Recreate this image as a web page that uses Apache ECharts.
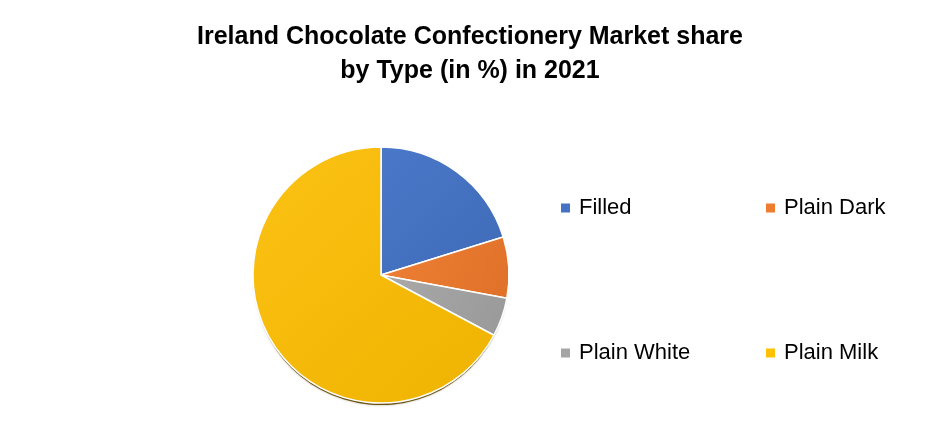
<!DOCTYPE html>
<html>
<head>
<meta charset="utf-8">
<script src="https://cdn.jsdelivr.net/npm/echarts@6/dist/echarts.min.js"></script>
<style>
html,body{margin:0;padding:0;background:#fff;}
#chart{width:940px;height:447px;}
</style>
</head>
<body>
<div id="chart"></div>
<script>
var categories = ['Filled', 'Plain Dark', 'Plain White', 'Plain Milk'];
var shares = [20.2, 7.7, 4.9, 67.2];
var titleText = 'Ireland Chocolate Confectionery Market share\nby Type (in %) in 2021';

var colorPairs = [
  ['#4a78c8', '#3f6bb8'],
  ['#ee8036', '#df7128'],
  ['#a9a9a9', '#999999'],
  ['#fcc214', '#efb300']
];

function grad(p) {
  return new echarts.graphic.LinearGradient(0, 0, 1, 1, [
    { offset: 0, color: p[0] },
    { offset: 1, color: p[1] }
  ]);
}

var pieData = categories.map(function (c, i) {
  return { name: c, value: shares[i], itemStyle: { color: grad(colorPairs[i]) } };
});
var shadowData = categories.map(function (c, i) {
  return { name: c + ' ', value: shares[i] };
});

var legendColors = ['#4472C4', '#ED7D31', '#A5A5A5', '#FFC000'];
var legendPos = [[559, 197], [764, 197], [559, 342], [764, 342]];

var legends = categories.map(function (c, i) {
  return {
    data: [{ name: c, itemStyle: { color: legendColors[i] } }],
    left: legendPos[i][0],
    top: legendPos[i][1],
    padding: 0,
    icon: 'rect',
    itemWidth: 11,
    itemHeight: 11,
    selectedMode: false,
    textStyle: {
      fontFamily: 'Liberation Sans',
      fontSize: 22,
      lineHeight: 22,
      color: '#000',
      padding: [0, 0, 0, 3]
    }
  };
});

var chart = echarts.init(document.getElementById('chart'));
chart.setOption({
  animation: false,
  title: {
    text: titleText,
    left: 'center',
    top: 20,
    padding: 0,
    textStyle: {
      fontFamily: 'Liberation Sans',
      fontSize: 25,
      fontWeight: 'bold',
      lineHeight: 34,
      color: '#000'
    }
  },
  legend: legends,
  series: [{
    type: 'pie',
    z: 1,
    silent: true,
    center: [381, 278],
    radius: 127,
    startAngle: 90,
    label: { show: false },
    labelLine: { show: false },
    emphasis: { disabled: true },
    itemStyle: {
      color: '#6b5210',
      borderWidth: 0,
      shadowColor: 'rgba(80,60,0,0.5)',
      shadowBlur: 2
    },
    data: shadowData
  }, {
    type: 'pie',
    z: 2,
    center: [381, 275],
    radius: 128,
    startAngle: 90,
    clockwise: true,
    label: { show: false },
    labelLine: { show: false },
    emphasis: { disabled: true },
    itemStyle: {
      borderColor: '#ffffff',
      borderWidth: 1.5
    },
    data: pieData
  }]
});
</script>
</body>
</html>
